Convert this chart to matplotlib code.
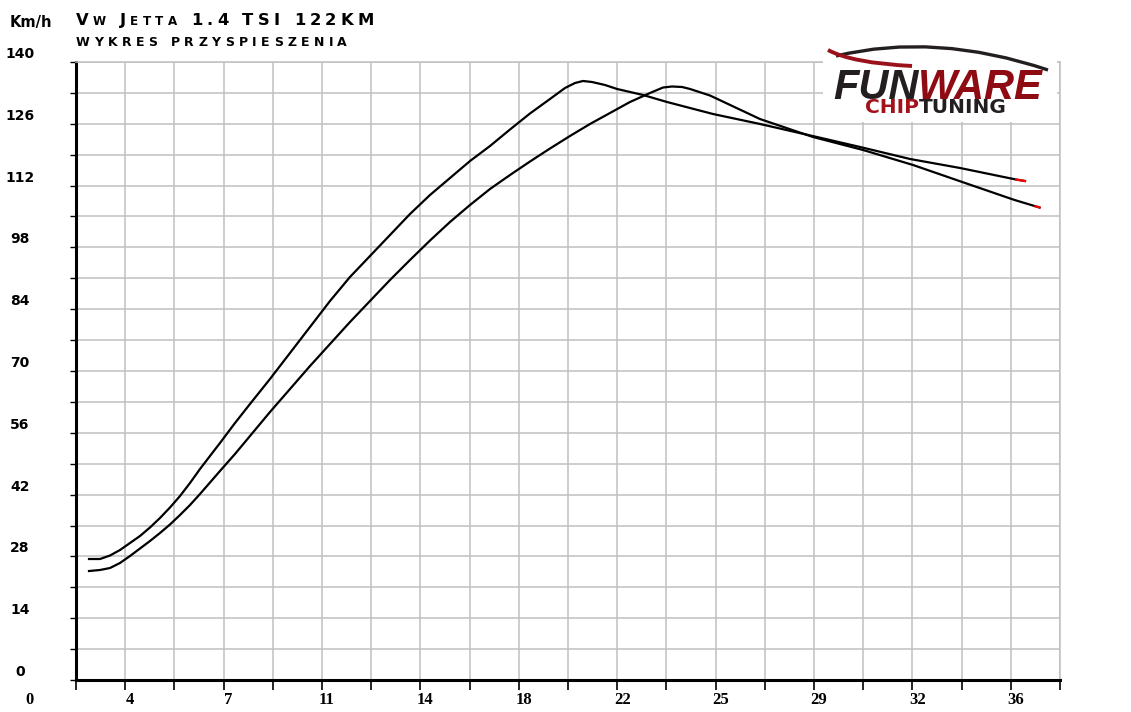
import numpy as np
import matplotlib.pyplot as plt
from matplotlib.transforms import IdentityTransform
from matplotlib.patches import Rectangle, PathPatch
from matplotlib.path import Path

# czas [s] / predkosc [km/h]
t_a = [2.676, 3.078, 3.444, 3.810, 4.176, 4.541, 4.907, 5.273, 5.639, 6.005, 6.371,
       6.737, 7.102, 7.468, 8.017, 8.566, 9.297, 10.029, 10.761, 11.493, 12.224,
       12.956, 13.688, 14.420, 15.151, 15.883, 16.615, 17.346, 18.078, 18.810,
       19.541, 20.090, 20.456, 20.749, 21.078, 21.554, 21.993, 22.944, 23.822,
       25.505, 27.224, 29.309, 30.883, 32.712, 34.541, 36.590, 36.919]
v_a = [27.41, 27.41, 28.20, 29.45, 31.04, 32.62, 34.55, 36.70, 39.08, 41.68, 44.63,
       47.80, 50.75, 53.69, 58.22, 62.53, 68.19, 74.08, 79.97, 85.86, 91.30,
       96.05, 100.81, 105.57, 109.87, 113.72, 117.57, 120.97, 124.71, 128.34,
       131.62, 134.11, 135.24, 135.70, 135.47, 134.79, 133.89, 132.53, 130.94,
       128.22, 125.96, 123.01, 120.75, 118.03, 115.99, 113.38, 113.04]

t_b = [2.676, 3.078, 3.444, 3.810, 4.176, 4.541, 4.907, 5.273, 5.639, 6.005, 6.371,
       6.737, 7.102, 7.468, 8.017, 8.566, 9.297, 10.029, 10.761, 11.493, 12.224,
       12.956, 13.688, 14.420, 15.151, 15.883, 16.615, 17.346, 18.078, 18.810,
       19.541, 20.273, 21.005, 21.737, 22.468, 23.200, 23.676, 24.005, 24.371,
       24.663, 25.395, 27.224, 29.163, 30.993, 32.822, 34.798, 36.537, 37.305, 37.451]
v_b = [24.69, 24.92, 25.37, 26.51, 28.09, 29.79, 31.49, 33.30, 35.23, 37.38, 39.64,
       42.14, 44.74, 47.35, 51.20, 55.28, 60.71, 65.92, 71.13, 76.12, 81.10,
       85.86, 90.62, 95.15, 99.56, 103.76, 107.61, 111.23, 114.40, 117.46,
       120.40, 123.24, 125.96, 128.45, 130.94, 132.98, 134.22, 134.45, 134.34,
       133.89, 132.41, 127.08, 123.01, 120.07, 116.67, 112.44, 108.74, 107.31, 107.04]

x_grid = [2.2, 4.0, 5.8, 7.6, 9.4, 11.2, 13.0, 14.8, 16.6, 18.4, 20.2, 22.0, 23.8,
          25.6, 27.4, 29.2, 31.0, 32.8, 34.6, 36.4, 38.2]
x_tick_pos = [4.0, 7.6, 11.2, 14.8, 18.4, 22.0, 25.6, 29.2, 32.8, 36.4]
x_tick_labels = ['4', '7', '11', '14', '18', '22', '25', '29', '32', '36']
y_grid = list(range(0, 141, 7))
y_tick_pos = list(range(0, 141, 14))
y_tick_labels = [str(v) for v in y_tick_pos]

H = 712
fig = plt.figure(figsize=(11.31, 7.12), dpi=100)
ax = fig.add_axes([76 / 1131, 1 - 680 / H, 984 / 1131, 618 / H])

ax.plot(t_a, v_a, color='black', lw=1.6, zorder=3)
ax.plot(t_b, v_b, color='black', lw=1.6, zorder=3)
ax.plot(t_a[-2:], v_a[-2:], color='red', lw=1.6, zorder=4)
ax.plot(t_b[-2:], v_b[-2:], color='red', lw=1.6, zorder=4)

ax.set_xlim(x_grid[0], x_grid[-1])
ax.set_ylim(0, 140)
ax.set_xticks(x_grid)
ax.set_yticks(y_grid)
ax.set_xticklabels([])
ax.set_yticklabels([])
ax.grid(True, color='#c0c0c0', lw=1.1)
ax.set_axisbelow(True)
ax.tick_params(axis='x', direction='out', length=7, width=1.2, color='black')
ax.tick_params(axis='y', direction='out', length=4, width=1.0, color='black')
for s in ['left', 'bottom']:
    ax.spines[s].set_linewidth(2.2)
for s in ['top', 'right']:
    ax.spines[s].set_color('#c0c0c0')
    ax.spines[s].set_linewidth(1.1)

# opisy osi
for pos, lab in zip(x_tick_pos, x_tick_labels):
    ax.annotate(lab, xy=(pos, 0), xycoords=('data', 'axes fraction'),
                xytext=(5, -20), textcoords='offset pixels', ha='center', va='center',
                fontsize=12, fontweight='bold', family='Liberation Serif')
fig.text(30, H - 700, '0', transform=IdentityTransform(), ha='center', va='center',
         fontsize=12, fontweight='bold', family='Liberation Serif')
for pos, lab in zip(y_tick_pos, y_tick_labels):
    ax.annotate(lab, xy=(20, pos), xycoords=('figure pixels', 'data'),
                xytext=(0, 8), textcoords='offset pixels', ha='center', va='center',
                fontsize=10, fontweight='bold', family='DejaVu Sans')
fig.text(10, H - 22, 'Km/h', transform=IdentityTransform(), ha='left', va='center',
         fontsize=10.5, fontweight='bold', family='DejaVu Sans')

renderer = fig.canvas.get_renderer()


def caps_text(x0, x1, y, text, big, small):
    items = []
    for ch in text:
        size = small if ch.islower() else big
        t = fig.text(0, y, ch.upper(), transform=IdentityTransform(), fontsize=size,
                     fontweight='bold', family='DejaVu Sans', va='baseline')
        w = size * 0.45 if ch == ' ' else t.get_window_extent(renderer).width
        items.append((t, w))
    gap = (x1 - x0 - sum(w for _, w in items)) / (len(items) - 1)
    x = x0
    for t, w in items:
        t.set_x(x)
        x += w + gap


caps_text(76, 374, H - 25, 'Vw Jetta 1.4 TSI 122KM', 11.8, 8.6)
caps_text(76, 347, H - 46.5, 'WYKRES PRZYSPIESZENIA', 9.0, 9.0)

# logo
fig.add_artist(Rectangle((823, H - 122), 234, 82, transform=IdentityTransform(),
                         facecolor='white', edgecolor='none', zorder=5))
roof = Path([(836, H - 56), (935, H - 32), (1048, H - 70)],
            [Path.MOVETO, Path.CURVE3, Path.CURVE3])
fig.add_artist(PathPatch(roof, transform=IdentityTransform(), facecolor='none',
                         edgecolor='#231f20', lw=2.4, zorder=6))
swoosh = Path([(828, H - 50), (852, H - 63), (912, H - 66)],
              [Path.MOVETO, Path.CURVE3, Path.CURVE3])
fig.add_artist(PathPatch(swoosh, transform=IdentityTransform(), facecolor='none',
                         edgecolor='#9b111b', lw=2.8, zorder=6))
fun = fig.text(833, H - 99, 'FUN', transform=IdentityTransform(), fontsize=30,
               fontweight='bold', style='italic', family='Liberation Sans',
               color='#231f20', va='baseline', zorder=7)
w_fun = fun.get_window_extent(renderer).width
fig.text(833 + w_fun, H - 99, 'WARE', transform=IdentityTransform(), fontsize=30,
         fontweight='bold', style='italic', family='Liberation Sans',
         color='#8e0b14', va='baseline', zorder=7)
chip = fig.text(865, H - 113, 'CHIP', transform=IdentityTransform(), fontsize=14.5,
                fontweight='bold', family='DejaVu Sans', color='#a3111a',
                va='baseline', zorder=7)
w_chip = chip.get_window_extent(renderer).width
fig.text(865 + w_chip, H - 113, 'TUNING', transform=IdentityTransform(), fontsize=14.5,
         fontweight='bold', family='DejaVu Sans', color='#231f20',
         va='baseline', zorder=7)

fig.savefig('out.png', dpi=100)
